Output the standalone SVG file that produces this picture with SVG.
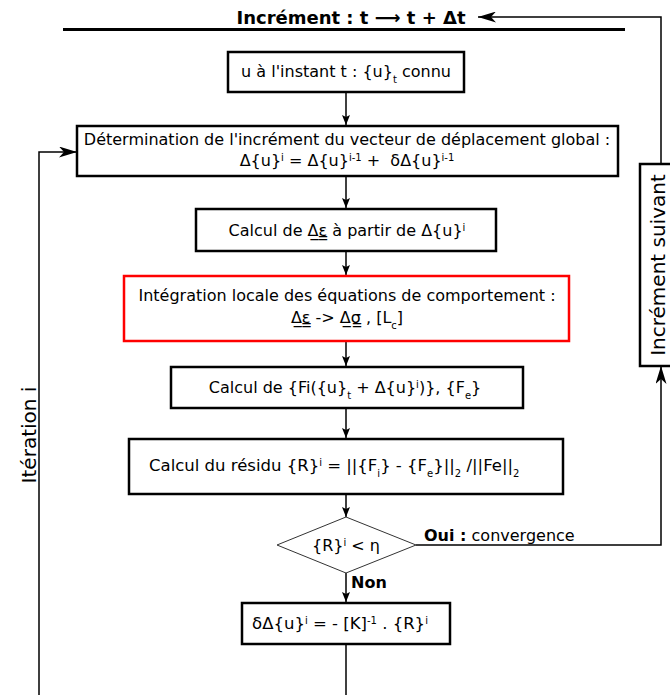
<svg xmlns="http://www.w3.org/2000/svg" width="670" height="695" viewBox="0 0 670 695">
<style>
text{font-family:"DejaVu Sans","Verdana",sans-serif;font-size:16px;fill:#000;white-space:pre}
.b{font-weight:bold}
.big{font-size:20px}
.sup{font-size:10px;baseline-shift:super}
.sub{font-size:10px;baseline-shift:sub}
.box{fill:#fff;stroke:#000;stroke-width:2.5}
.red{fill:#fff;stroke:#ff0000;stroke-width:2.5}
.con{fill:none;stroke:#000;stroke-width:1.5}
</style>
<defs>
<marker id="a" markerWidth="10" markerHeight="8" refX="10" refY="4" orient="auto" markerUnits="userSpaceOnUse"><path d="M0,0 L10,4 L0,8 L2,4z" fill="#000"/></marker>
<marker id="A" markerWidth="18" markerHeight="11" refX="18" refY="5.5" orient="auto" markerUnits="userSpaceOnUse"><path d="M0,0 L18,5.5 L0,11 L5,5.5z" fill="#000"/></marker>
</defs>

<g id="title">
<line x1="63" y1="29.5" x2="625" y2="29.5" stroke="#000" stroke-width="3"/>
<text class="b" x="351" y="24" text-anchor="middle" style="font-size:18px">Incrément : t ⟶ t + Δt</text>
</g>

<g id="connectors">
<path class="con" d="M346,92 V125" marker-end="url(#a)"/>
<path class="con" d="M346,176 V208" marker-end="url(#a)"/>
<path class="con" d="M346,251 V275" marker-end="url(#a)"/>
<path class="con" d="M346,341 V366" marker-end="url(#a)"/>
<path class="con" d="M346,408 V438" marker-end="url(#a)"/>
<path class="con" d="M346,494 V517" marker-end="url(#a)"/>
<path class="con" d="M346,573 V602" marker-end="url(#a)"/>
<path class="con" d="M346,644 V695"/>
<path class="con" d="M416,545 H661 V366" stroke-width="2" marker-end="url(#A)"/>
<path class="con" d="M661,164 V17 H478" stroke-width="2" marker-end="url(#A)"/>
<path class="con" d="M39,695 V152 H77" stroke="#333" marker-end="url(#A)"/>
</g>

<g id="n1">
<rect class="box" x="228" y="52" width="236" height="40"/>
<text x="346" y="77" text-anchor="middle">u à l'instant t : {u}<tspan class="sub">t</tspan> connu</text>
</g>

<g id="n2">
<rect class="box" x="77" y="126" width="541" height="50"/>
<text x="347" y="145" text-anchor="middle">Détermination de l'incrément du vecteur de déplacement global :</text>
<text x="347" y="166" text-anchor="middle">Δ{u}<tspan class="sup">i</tspan> = Δ{u}<tspan class="sup">i-1</tspan> +  δΔ{u}<tspan class="sup">i-1</tspan></text>
</g>

<g id="n3">
<rect class="box" x="196" y="209" width="300" height="42"/>
<text x="347" y="236" text-anchor="middle">Calcul de Δ̲ε̳ à partir de Δ{u}<tspan class="sup">i</tspan></text>
</g>

<g id="n4">
<rect class="red" x="124" y="276" width="445" height="65"/>
<text x="347" y="301" text-anchor="middle">Intégration locale des équations de comportement :</text>
<text x="347" y="323" text-anchor="middle">Δ̲ε̳ -&gt; Δ̲σ̳ , [L<tspan class="sub">c</tspan>]</text>
</g>

<g id="n5">
<rect class="box" x="171" y="367" width="352" height="41"/>
<text x="345" y="393" text-anchor="middle">Calcul de {Fi({u}<tspan class="sub">t</tspan> + Δ{u}<tspan class="sup">i</tspan>)}, {F<tspan class="sub">e</tspan>}</text>
</g>

<g id="n6">
<rect class="box" x="129" y="439" width="434" height="55"/>
<text x="149" y="471" style="font-size:16.5px">Calcul du résidu {R}<tspan class="sup">i</tspan> = ||{F<tspan class="sub">i</tspan>} - {F<tspan class="sub">e</tspan>}||<tspan class="sub">2</tspan> /||Fe||<tspan class="sub">2</tspan></text>
</g>

<g id="n7">
<polygon points="346,517 416,545 346,573 277,545" fill="#fff" stroke="#333" stroke-width="1"/>
<text x="346" y="551" text-anchor="middle">{R}<tspan class="sup">i</tspan> &lt; η</text>
</g>

<g id="n8">
<rect class="box" x="242" y="603" width="208" height="41"/>
<text x="340" y="629" text-anchor="middle" style="font-size:16.5px">δΔ{u}<tspan class="sup">i</tspan> = - [K]<tspan class="sup">-1</tspan> . {R}<tspan class="sup">i</tspan></text>
</g>

<g id="n9">
<rect class="box" x="640" y="164" width="44" height="202"/>
<text class="big" transform="translate(665,265) rotate(-90)" text-anchor="middle">Incrément suivant</text>
</g>

<g id="labels">
<text x="424" y="541"><tspan class="b">Oui :</tspan> convergence</text>
<text class="b" x="351" y="588">Non</text>
<text class="big" transform="translate(36,435) rotate(-90)" text-anchor="middle">Itération i</text>
</g>
</svg>
